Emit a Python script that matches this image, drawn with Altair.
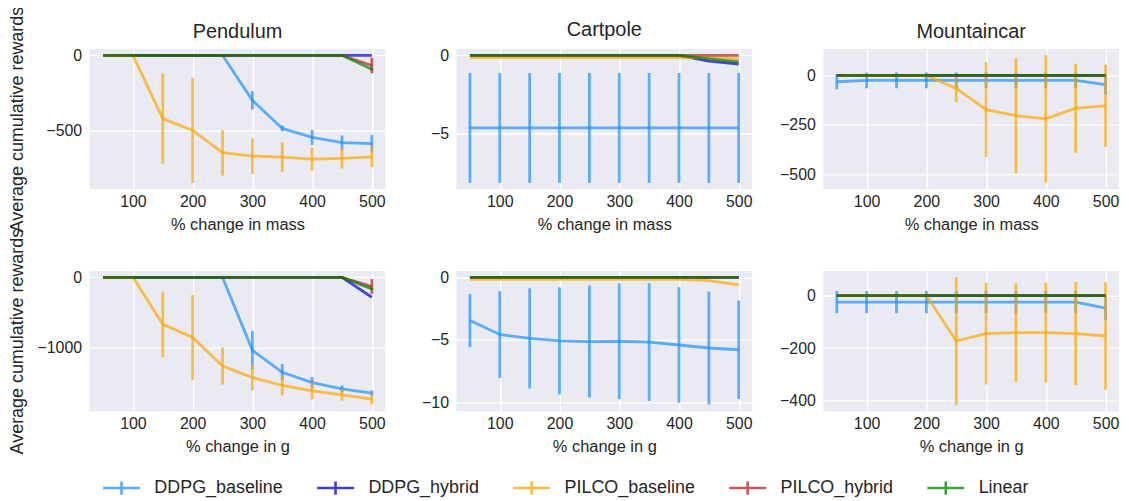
import altair as alt
import pandas as pd

x_vals = [50, 100, 150, 200, 250, 300, 350, 400, 450, 500]
series_names = ["DDPG_baseline", "DDPG_hybrid", "PILCO_baseline", "PILCO_hybrid", "Linear"]
series_colors = ["#1E90FF", "#0000CD", "#FFA500", "#B22222", "#008000"]
Z = [0] * 10

# ---- Pendulum, % change in mass
pend_mass_mean = {
    "DDPG_baseline": [0, 0, 0, 0, 0, -300, -487, -547, -582, -589],
    "DDPG_hybrid": Z,
    "PILCO_baseline": [0, 0, -422, -500, -649, -671, -678, -691, -687, -676],
    "PILCO_hybrid": [0, 0, 0, 0, 0, 0, 0, 0, 0, -68],
    "Linear": [0, 0, 0, 0, 0, 0, 0, 0, 0, -93],
}
pend_mass_err = {
    "DDPG_baseline": [0, 0, 0, 0, 0, 61, 20, 50, 48, 58],
    "DDPG_hybrid": Z,
    "PILCO_baseline": [0, 0, 300, 350, 152, 118, 97, 78, 67, 69],
    "PILCO_hybrid": [0, 0, 0, 0, 0, 0, 0, 0, 0, 52],
    "Linear": [0, 0, 0, 0, 0, 0, 0, 0, 0, 8],
}
# ---- Cartpole, % change in mass
cart_mass_mean = {
    "DDPG_baseline": [-4.62] * 10,
    "DDPG_hybrid": [0, 0, 0, 0, 0, 0, 0, 0, -0.36, -0.55],
    "PILCO_baseline": [-0.15, -0.15, -0.15, -0.15, -0.15, -0.15, -0.15, -0.15, -0.15, -0.22],
    "PILCO_hybrid": Z,
    "Linear": [0, 0, 0, 0, 0, 0, 0, 0, -0.22, -0.42],
}
cart_mass_err = {
    "DDPG_baseline": [3.5] * 10,
    "DDPG_hybrid": Z,
    "PILCO_baseline": Z,
    "PILCO_hybrid": Z,
    "Linear": Z,
}
# ---- Mountaincar, % change in mass
mc_mass_mean = {
    "DDPG_baseline": [-32, -25, -25, -25, -25, -25, -25, -25, -25, -46],
    "DDPG_hybrid": Z,
    "PILCO_baseline": [0, 0, 0, 0, -66, -173, -203, -220, -166, -154],
    "PILCO_hybrid": Z,
    "Linear": Z,
}
mc_mass_err = {
    "DDPG_baseline": [38, 40, 40, 40, 40, 40, 40, 40, 40, 50],
    "DDPG_hybrid": Z,
    "PILCO_baseline": [0, 0, 0, 0, 69, 240, 290, 322, 225, 208],
    "PILCO_hybrid": Z,
    "Linear": Z,
}
# ---- Pendulum, % change in g
pend_g_mean = {
    "DDPG_baseline": [0, 0, 0, 0, 0, -1040, -1354, -1500, -1590, -1651],
    "DDPG_hybrid": [0, 0, 0, 0, 0, 0, 0, 0, 0, -283],
    "PILCO_baseline": [0, 0, -670, -858, -1264, -1429, -1542, -1618, -1675, -1736],
    "PILCO_hybrid": [0, 0, 0, 0, 0, 0, 0, 0, 0, -130],
    "Linear": [0, 0, 0, 0, 0, 0, 0, 0, 0, -165],
}
pend_g_err = {
    "DDPG_baseline": [0, 0, 0, 0, 0, 276, 118, 78, 50, 40],
    "DDPG_hybrid": Z,
    "PILCO_baseline": [0, 0, 467, 606, 266, 181, 141, 122, 82, 75],
    "PILCO_hybrid": [0, 0, 0, 0, 0, 0, 0, 0, 0, 105],
    "Linear": [0, 0, 0, 0, 0, 0, 0, 0, 0, 15],
}
# ---- Cartpole, % change in g
cart_g_mean = {
    "DDPG_baseline": [-3.45, -4.56, -4.87, -5.07, -5.13, -5.10, -5.17, -5.40, -5.64, -5.78],
    "DDPG_hybrid": Z,
    "PILCO_baseline": [-0.15, -0.15, -0.15, -0.15, -0.15, -0.15, -0.15, -0.15, -0.25, -0.6],
    "PILCO_hybrid": Z,
    "Linear": Z,
}
cart_g_err = {
    "DDPG_baseline": [2.12, 3.48, 4.0, 4.28, 4.47, 4.63, 4.7, 4.62, 4.51, 3.94],
    "DDPG_hybrid": Z,
    "PILCO_baseline": Z,
    "PILCO_hybrid": Z,
    "Linear": Z,
}
# ---- Mountaincar, % change in g
mc_g_mean = {
    "DDPG_baseline": [-25, -25, -25, -25, -25, -25, -25, -25, -25, -48],
    "DDPG_hybrid": Z,
    "PILCO_baseline": [0, 0, 0, 0, -173, -145, -141, -141, -145, -154],
    "PILCO_hybrid": Z,
    "Linear": Z,
}
mc_g_err = {
    "DDPG_baseline": [42, 42, 42, 42, 42, 42, 42, 42, 42, 45],
    "DDPG_hybrid": Z,
    "PILCO_baseline": [0, 0, 0, 0, 243, 194, 188, 190, 197, 205],
    "PILCO_hybrid": Z,
    "Linear": Z,
}

x_domain = [27.5, 522.5]
x_ticks = [100, 200, 300, 400, 500]
FONT = "Liberation Sans"
TXT = "#262626"
YTITLE = "Average cumulative rewards"

legend = alt.Legend(
    title=None, orient="none", legendX=12, legendY=421, direction="horizontal",
    symbolType="M-1,0H1M0,-0.36V0.36", symbolSize=1369, symbolStrokeWidth=2.6,
    symbolOpacity=0.75, labelFontSize=18, labelColor=TXT, labelFont=FONT,
    columnPadding=28, labelOffset=13,
)


def panel(mean, err, ydomain, yticks, title, xtitle, ytitle, ytitle_pad, title_dy=0):
    rows = []
    for s in series_names:
        for xv, m, e in zip(x_vals, mean[s], err[s]):
            rows.append({"x": xv, "series": s, "mean": m, "lo": m - e, "hi": m + e})
    df = pd.DataFrame(rows)
    xenc = alt.X("x:Q", scale=alt.Scale(domain=x_domain, nice=False, zero=False),
                 axis=alt.Axis(values=x_ticks, title=xtitle, format="d"))
    yscale = alt.Scale(domain=ydomain, nice=False, zero=False)
    if ytitle:
        yaxis = alt.Axis(values=yticks, title=ytitle, format="d", titlePadding=ytitle_pad,
                         titleFontSize=18)
    else:
        yaxis = alt.Axis(values=yticks, title=None, format="d")
    color = alt.Color("series:N", scale=alt.Scale(domain=series_names, range=series_colors),
                      legend=legend)
    layers = []
    for s in series_names:
        base = alt.Chart(df).transform_filter(alt.datum.series == s)
        layers.append(base.mark_rule(strokeWidth=2.8, opacity=0.7).encode(
            x=xenc, y=alt.Y("lo:Q", scale=yscale, axis=yaxis), y2="hi:Q", color=color))
        layers.append(base.mark_line(strokeWidth=2.8, opacity=0.7).encode(
            x=xenc, y=alt.Y("mean:Q", scale=yscale, axis=yaxis), color=color))
    ch = alt.layer(*layers)
    props = {"width": 297, "height": 141}
    if title:
        props["title"] = alt.TitleParams(title, fontSize=20, font=FONT, color=TXT,
                                         fontWeight="normal", offset=7, frame="group",
                                         anchor="middle", dy=title_dy)
    return ch.properties(**props)


panels = [
    panel(pend_mass_mean, pend_mass_err, [-892.5, 42.5], [-500, 0], "Pendulum",
          "% change in mass", YTITLE, 19, title_dy=43),
    panel(cart_mass_mean, cart_mass_err, [-8.53, 0.41], [-5, 0], "Cartpole",
          "% change in mass", None, 0),
    panel(mc_mass_mean, mc_mass_err, [-576, 134], [-500, -250, 0], "Mountaincar",
          "% change in mass", None, 0),
    panel(pend_g_mean, pend_g_err, [-1910, 92], [-1000, 0], None,
          "% change in g", YTITLE, 10),
    panel(cart_g_mean, cart_g_err, [-10.7, 0.52], [-10, -5, 0], None,
          "% change in g", None, 0),
    panel(mc_g_mean, mc_g_err, [-441, 94], [-400, -200, 0], None,
          "% change in g", None, 0),
]

chart = alt.concat(*panels, columns=3, spacing=alt.RowColnumber(row=82, column=71.5),
                   bounds="flush").properties(
    padding={"left": 0, "top": -3, "right": 2, "bottom": 0}
).configure(
    font=FONT,
).configure_view(
    fill="#EAEAF2", stroke=None,
).configure_axis(
    domain=False, ticks=False, grid=True, gridColor="#FFFFFF", gridWidth=1.4,
    labelFont=FONT, labelFontSize=16, labelColor=TXT, labelPadding=8,
    titleFont=FONT, titleFontSize=16.5, titleColor=TXT, titleFontWeight="normal",
    titlePadding=6,
).configure_axisX(
    labelPadding=4, titlePadding=7,
)

chart.save("out.html", embed_options={"renderer": "svg", "actions": False})
